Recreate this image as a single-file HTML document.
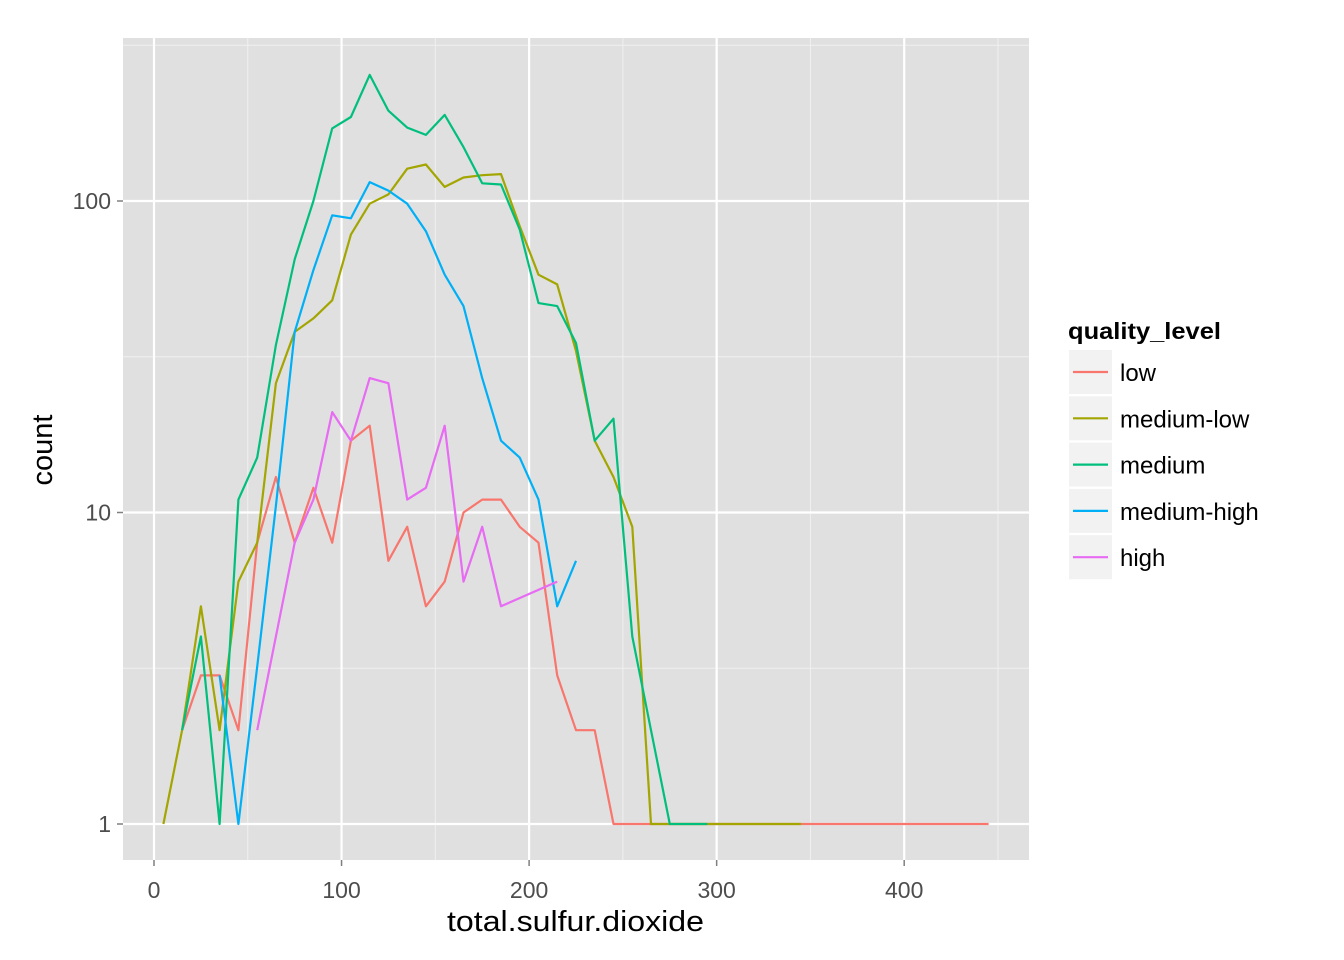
<!DOCTYPE html>
<html><head><meta charset="utf-8"><style>body{margin:0;background:#fff}svg{display:block}text{font-family:"Liberation Sans",Arial,sans-serif}</style></head>
<body>
<svg id="chart" width="1344" height="960" xmlns="http://www.w3.org/2000/svg"></svg>
<script>
const xTicks=[0,100,200,300,400];
const yTicks=[1,10,100];
const seriesNames=["low","medium-low","medium","medium-high","high"];
const colors=["#F8766D","#A3A500","#00BF7D","#00B0F6","#E76BF3"];
const lowX=[15,25,35,45,55,65,75,85,95,105,115,125,135,145,155,165,175,185,195,205,215,225,235,245,255,265,275,285,295,305,315,325,335,345,355,365,375,385,395,405,415,425,435,445];
const lowY=[2,3,3,2,8,13,8,12,8,17,19,7,9,5,6,10,11,11,9,8,3,2,2,1,1,1,1,1,1,1,1,1,1,1,1,1,1,1,1,1,1,1,1,1];
const mlowX=[5,15,25,35,45,55,65,75,85,95,105,115,125,135,145,155,165,175,185,195,205,215,225,235,245,255,265,275,285,295,305,315,325,335,345];
const mlowY=[1,2,5,2,6,8,26,38,42,48,78,98,105,127,131,111,119,121,122,83,58,54,33,17,13,9,1,1,1,1,1,1,1,1,1];
const medX=[15,25,35,45,55,65,75,85,95,105,115,125,135,145,155,165,175,185,195,205,215,225,235,245,255,265,275,285,295];
const medY=[2,4,1,11,15,34.5,65,100,171,186,254,195,172,163,189,149,114,113,81,47,46,35,17,20,4,2,1,1,1];
const mhighX=[35,45,55,65,75,85,95,105,115,125,135,145,155,165,175,185,195,205,215,225];
const mhighY=[3,1,3.2,10.5,38,60,90,88,115,108,98,80,58,46,27,17,15,11,5,7];
const highX=[55,65,75,85,95,105,115,125,135,145,155,165,175,185,215];
const highY=[2,4,8,11,21,17,27,26,11,12,19,6,9,5,6];
const allX=[lowX,mlowX,medX,mhighX,highX], allY=[lowY,mlowY,medY,mhighY,highY];
const P={l:123,r:1029,t:38,b:860};
const sx=v=>154+v*1.8755;
const sy=v=>824-Math.log10(v)*311.5;
const svg=document.getElementById('chart');
const NS="http://www.w3.org/2000/svg";
function mk(tag,attrs,parent){const e=document.createElementNS(NS,tag);for(const k in attrs)e.setAttribute(k,attrs[k]);(parent||svg).appendChild(e);return e;}
const bg=mk('rect',{x:P.l,y:P.t,width:P.r-P.l,height:P.b-P.t,fill:'#E0E0E0'});


const grid=mk('g',{});


[50,150,250,350,450].forEach(v=>mk('line',{x1:sx(v),x2:sx(v),y1:P.t,y2:P.b,stroke:'#F0F0F0','stroke-width':1},grid));
[Math.sqrt(10),Math.sqrt(1000),Math.pow(10,2.5)].forEach(v=>{const y=sy(v);if(y>P.t)mk('line',{x1:P.l,x2:P.r,y1:y,y2:y,stroke:'#F0F0F0','stroke-width':1},grid);});
xTicks.forEach(v=>mk('line',{x1:sx(v),x2:sx(v),y1:P.t,y2:P.b,stroke:'#fff','stroke-width':2.2},grid));
yTicks.forEach(v=>mk('line',{x1:P.l,x2:P.r,y1:sy(v),y2:sy(v),stroke:'#fff','stroke-width':2.2},grid));
const xa=mk('g',{});


xTicks.forEach(v=>{mk('line',{x1:sx(v),x2:sx(v),y1:P.b,y2:P.b+6,stroke:'#7f7f7f','stroke-width':1.5},xa);const t=mk('text',{x:sx(v),y:P.b+38,'text-anchor':'middle','font-size':23,fill:'#4d4d4d'},xa);t.textContent=v;});
const ya=mk('g',{});


yTicks.forEach(v=>{mk('line',{x1:P.l-6,x2:P.l,y1:sy(v),y2:sy(v),stroke:'#7f7f7f','stroke-width':1.5},ya);const t=mk('text',{x:P.l-12,y:sy(v)+8,'text-anchor':'end','font-size':23,fill:'#4d4d4d'},ya);t.textContent=v;});
const xt=mk('text',{x:447,y:931,'font-size':29,fill:'#000',textLength:257,lengthAdjust:'spacingAndGlyphs'});
xt.textContent='total.sulfur.dioxide';


const yt=mk('text',{x:52,y:450,'text-anchor':'middle','font-size':29,fill:'#000',transform:'rotate(-90 52 450)'});
yt.textContent='count';


allX.forEach((xs,i)=>{const d=xs.map((x,j)=>(j?'L':'M')+sx(x).toFixed(1)+','+sy(allY[i][j]).toFixed(1)).join(' ');
const p=mk('path',{d:d,fill:'none',stroke:colors[i],'stroke-width':2.2,'stroke-linejoin':'round'});

});
const lg=mk('g',{});


const lt=mk('text',{x:1068,y:339,'font-size':23,'font-weight':'bold',fill:'#000',textLength:153,lengthAdjust:'spacingAndGlyphs'},lg);
lt.textContent='quality_level';
seriesNames.forEach((n,i)=>{const y0=350+i*46.3;const e=mk('g',{},lg);


mk('rect',{x:1069,y:y0,width:43,height:44,fill:'#F2F2F2'},e);
mk('line',{x1:1073,x2:1108,y1:y0+22,y2:y0+22,stroke:colors[i],'stroke-width':2.2},e);
const t=mk('text',{x:1120,y:y0+31,'font-size':24,fill:'#000'},e);t.textContent=n;});
</script>
</body></html>
